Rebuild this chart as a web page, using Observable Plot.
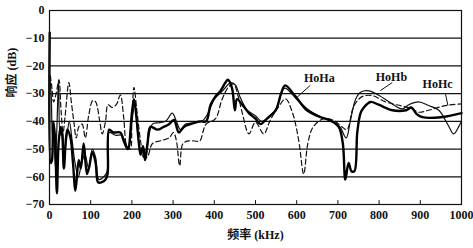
<!DOCTYPE html>
<html>
<head>
<meta charset="utf-8">
<script src="https://cdn.jsdelivr.net/npm/d3@7"></script>
<script src="https://cdn.jsdelivr.net/npm/@observablehq/plot@0.6"></script>
<style>
  html, body { margin: 0; padding: 0; background: #fff; }
  #chart svg { display: block; }
</style>
</head>
<body>
<div id="chart"></div>
<script>
// ---- data ----
const xTicks = [0, 100, 200, 300, 400, 500, 600, 700, 800, 900, 1000];
const yTicks = [0, -10, -20, -30, -40, -50, -60, -70];
const gridLevels = [-10, -20, -30, -40, -50, -60];

// HoHa: thick solid
const haFreq = [0.5, 3, 6, 9, 13, 18, 22, 27, 31, 35, 43, 51, 57, 63, 71, 76, 83, 91, 97, 104, 112, 118, 126, 136, 141, 145, 155, 172, 180, 190, 200, 205, 210, 217, 221, 227, 232, 238, 245, 262, 277, 290, 302, 314, 326, 342, 366, 380, 391, 403, 415, 427, 433, 443, 450, 455, 468, 484, 500, 512, 528, 549, 562, 572, 597, 625, 658, 682, 702, 712, 718, 726, 733, 740, 747, 755, 763, 779, 799, 832, 865, 878, 892, 905, 950, 1000];
const haDb   = [-8, -55, -54, -40, -45, -66, -48, -42, -45, -57, -43, -46, -55, -65, -54, -57, -48, -59, -56, -51, -55, -62, -62, -61, -59, -43, -44, -44, -47, -50, -37, -32, -37, -48, -52, -49, -54, -48, -42, -43, -42, -41, -39.5, -44, -42, -41, -40, -40, -34, -31, -29, -26, -25, -28, -36, -32, -34, -37, -39, -41, -39, -36, -30, -27, -31, -36, -38.5, -39.7, -42, -48, -61, -55, -58, -58, -44, -37, -35, -33, -34, -36, -36, -35, -37.5, -38.5, -38.5, -37];

// HoHb: thin solid
const hbFreq = [1, 4, 7, 10, 14, 18, 22, 26, 31, 36, 42, 48, 55, 62, 70, 78, 86, 95, 104, 112, 120, 132, 140, 145, 160, 175, 185, 192, 200, 207, 214, 220, 230, 240, 250, 265, 282, 298, 308, 318, 330, 350, 370, 385, 400, 420, 440, 452, 462, 480, 500, 515, 535, 552, 565, 572, 600, 630, 660, 685, 705, 720, 730, 743, 755, 775, 800, 825, 856, 872, 896, 920, 945, 968, 981, 993, 1000];
const hbDb   = [-25, -30, -45, -40, -56, -42, -25, -45, -43, -52, -46, -40, -47, -55, -60, -55, -52, -57, -50, -53, -61, -60, -58, -44, -45, -45, -48, -50, -40, -34, -44, -50, -53, -46, -41, -40.5, -40, -37, -40, -43, -41, -40.5, -40, -37, -32, -29, -26, -27, -31, -36, -38, -40, -38, -35, -29, -28, -32, -36, -38.5, -40, -42, -46, -40, -32, -29.5, -29, -30.7, -33, -35.5, -34, -33, -34.3, -36, -41.5, -44.5, -42, -40];

// HoHc: dashed
const hcFreq = [2, 6, 10, 16, 23, 28, 33, 38, 47, 53, 59, 65, 71, 79, 87, 95, 105, 112, 122, 128, 136, 142, 152, 162, 172, 180, 188, 196, 200, 205, 212, 221, 229, 237, 250, 270, 290, 301, 308, 316, 324, 340, 365, 372, 380, 403, 419, 435, 447, 458, 468, 484, 500, 520, 536, 555, 573, 590, 605, 617, 627, 640, 666, 690, 710, 722, 735, 745, 760, 783, 816, 856, 880, 896, 920, 961, 1000];
const hcDb   = [-23.5, -28, -33, -30, -25, -36, -44, -38, -26, -33, -40, -46, -42, -41, -46, -38, -32.5, -33, -40, -44.5, -40, -34, -35, -34, -30.5, -38.5, -49, -50, -40, -27.7, -36, -47, -53, -53, -48, -47, -46, -44, -47, -56, -48, -47, -47, -44, -41, -39, -32, -27.5, -26.5, -31, -37, -44.5, -40.3, -44.5, -39.5, -35, -31.9, -37, -47, -59, -48, -42, -39, -39.7, -42, -43, -36, -33, -31, -30.7, -33, -34.5, -35.5, -36.7, -36, -34.3, -33.7];

// series labels with their leader lines (data units)
const labelNames = ["HoHa", "HoHb", "HoHc"];
const labelX = [655, 830, 942];
const labelY = [-24.5, -24.2, -26.4];
const leaderX1 = [633, 832, 961];
const leaderY1 = [-27, -26, -30];
const leaderX2 = [601, 803, 967];
const leaderY2 = [-31.3, -28.9, -34.3];

// ---- build tables ----
const ha = haFreq.map((f, i) => ({f, db: haDb[i]}));
const hb = hbFreq.map((f, i) => ({f, db: hbDb[i]}));
const hc = hcFreq.map((f, i) => ({f, db: hcDb[i]}));
const labels = labelNames.map((name, i) => ({name, x: labelX[i], y: labelY[i]}));
const leaders = labelNames.map((name, i) => ({x1: leaderX1[i], y1: leaderY1[i], x2: leaderX2[i], y2: leaderY2[i]}));

const serif = "'Liberation Serif', 'Times New Roman', 'Noto Sans CJK SC', serif";

const chart = Plot.plot({
  width: 473,
  height: 248,
  marginLeft: 49,
  marginRight: 12,
  marginTop: 10,
  marginBottom: 44,
  style: {fontFamily: serif, fontSize: "12px", color: "#111", background: "#fff"},
  x: {domain: [0, 1000]},
  y: {domain: [-70, 0]},
  marks: [
    Plot.ruleY(gridLevels, {stroke: "#111", strokeWidth: 1.3}),
    Plot.ruleX(xTicks, {y1: -70, y2: -68.6, stroke: "#111", strokeWidth: 1}),
    Plot.line(hc, {x: "f", y: "db", stroke: "#111", strokeWidth: 1.2, strokeDasharray: "5,3", curve: "catmull-rom"}),
    Plot.line(hb, {x: "f", y: "db", stroke: "#111", strokeWidth: 1.2, curve: "catmull-rom"}),
    Plot.line(ha, {x: "f", y: "db", stroke: "#000", strokeWidth: 2.4, curve: "catmull-rom"}),
    Plot.link(leaders, {x1: "x1", y1: "y1", x2: "x2", y2: "y2", stroke: "#111", strokeWidth: 1}),
    Plot.text(labels, {x: "x", y: "y", text: "name", fontSize: 12, fontWeight: "bold", fill: "#111"}),
    Plot.frame({stroke: "#111", strokeWidth: 1.2}),
    Plot.axisY({ticks: yTicks, tickSize: 0, tickPadding: 5, label: null, fontSize: 12, fontWeight: "bold"}),
    Plot.axisX({ticks: xTicks, tickSize: 0, tickPadding: 6, label: null, fontSize: 12, fontWeight: "bold", tickFormat: d => String(d)}),
    Plot.text(["频率 (kHz)"], {frameAnchor: "bottom", dx: 0, dy: 34, fontSize: 12, fontWeight: "bold", fill: "#111"}),
    Plot.text(["响应 (dB)"], {frameAnchor: "left", dx: -37, dy: -10, rotate: -90, fontSize: 12, fontWeight: "bold", fill: "#111"})
  ]
});
document.getElementById("chart").appendChild(chart);
</script>
</body>
</html>
